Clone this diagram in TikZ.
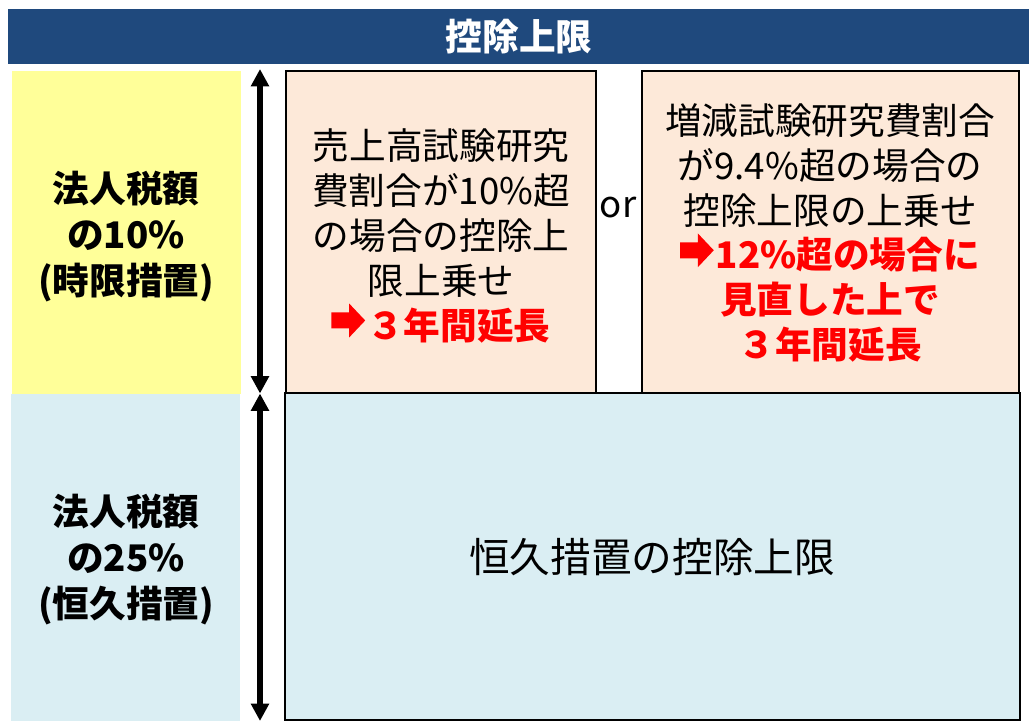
\documentclass[tikz,border=0pt]{standalone}
\usepackage{fontspec}
\setmainfont{Noto Sans CJK JP}
\usetikzlibrary{arrows.meta}

\definecolor{barblue}{HTML}{1F497D}
\definecolor{tempyellow}{HTML}{FFFF99}
\definecolor{permblue}{HTML}{DAEEF3}
\definecolor{casepeach}{HTML}{FDE9D9}
\newcommand{\hot}[1]{{\color{red}\bfseries #1}}
\newcommand{\harrow}{\tikz[x=1pt,y=1pt,baseline=0pt]{\fill [red] (0,8) -- (13.3,8) -- (13.3,1.3) -- (25.3,14) -- (13.3,26.7) -- (13.3,20) -- (0,20) -- cycle;}\hspace{1.5pt}}

\begin{document}
\begin{tikzpicture}[x=0.75pt,y=-0.75pt,>={Triangle[width=13pt,length=13pt]},
	txt/.style={align=center,inner sep=0pt,font=\fontsize{27.5}{33.6}\selectfont},
	side/.style={txt,font=\fontsize{27.5}{34.5}\selectfont\bfseries},
	casebox/.style={fill=casepeach,draw=black,line width=1.5pt},
	permbox/.style={fill=permblue,draw=black,line width=1.5pt}]

\useasboundingbox (0,0) rectangle (1029,721);

\fill [barblue] (8,9) rectangle (1029,64);
\node [side,text=white] (title) at (519,37) {控除上限};

\fill [tempyellow] (12,71) rectangle (241,394);
\fill [permblue] (11,394) rectangle (240,721);
\node [side] (tempcap) at (126,237) {法人税額\\の10\%\\(時限措置)};
\node [side] (permcap) at (126,560) {法人税額\\の25\%\\(恒久措置)};

\coordinate (a0) at (260,69);
\coordinate (a1) at (260,393.5);
\coordinate (a2) at (260,721);
\draw [<->,line width=4.2pt] (a0) to (a1);
\draw [<->,line width=4.2pt] (a1) to (a2);

\draw [permbox] (285,393) rectangle (1020,720);
\node [txt,font=\fontsize{30.5}{36}\selectfont] (perm) at (652,557) {恒久措置の控除上限};

\draw [casebox] (286,71) rectangle (596,393);
\node [txt] (sales) at (441,236) {売上高試験研究\\費割合が10\%超\\の場合の控除上\\限上乗せ\\\hot{\harrow３年間延長}};

\node [txt] (or) at (618,208) {or};

\draw [casebox] (642,71) rectangle (1019,393);
\node [txt] (incr) at (830,233) {増減試験研究費割合\\が9.4\%超の場合の\\控除上限の上乗せ\\\hot{\harrow12\%超の場合に}\\\hot{見直した上で}\\\hot{３年間延長}};

\end{tikzpicture}
\end{document}
